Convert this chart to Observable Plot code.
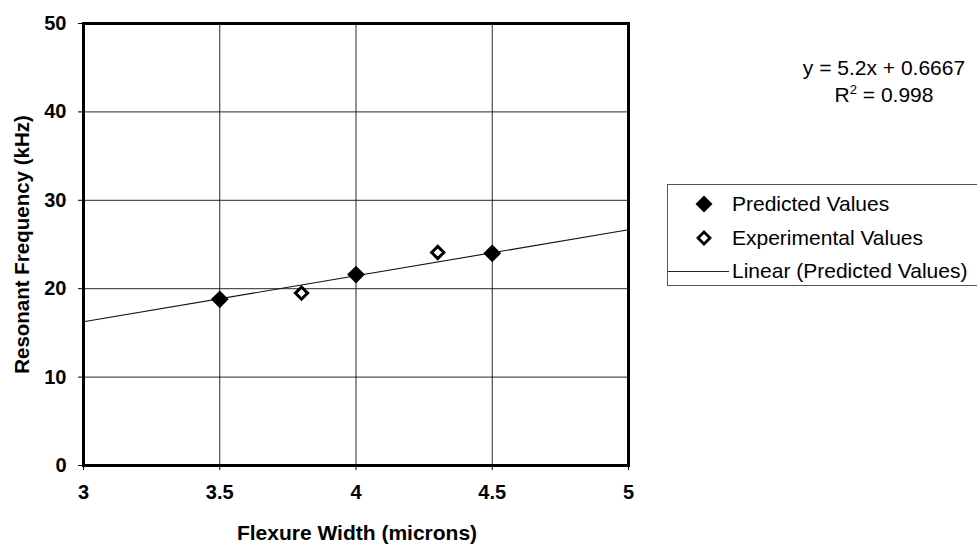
<!DOCTYPE html>
<html>
<head>
<meta charset="utf-8">
<script src="https://cdn.jsdelivr.net/npm/d3@7"></script>
<script src="https://cdn.jsdelivr.net/npm/@observablehq/plot@0.6"></script>
<style>
  html, body { margin: 0; padding: 0; background: #fff; }
  #wrap { position: relative; width: 977px; height: 546px; overflow: hidden; font-family: "Liberation Sans", Arial, sans-serif; color: #000; }
  #wrap svg { display: block; }
  .eq { position: absolute; left: 784px; width: 200px; text-align: center; font-size: 21px; line-height: 24px; }
  #legend { position: absolute; left: 667px; top: 184px; width: 330px; height: 102px; border: 1px solid #555; box-sizing: border-box; }
  .item { position: absolute; left: 0; width: 330px; height: 24px; font-size: 21px; line-height: 24px; }
  .item span { position: absolute; left: 64px; white-space: nowrap; }
  .mk { position: absolute; }
</style>
</head>
<body>
<div id="wrap"></div>
<script>
// Data
const predictedX = [3.5, 4.0, 4.5];
const predictedY = [18.8, 21.6, 24.0];
const experimentalX = [3.8, 4.3];
const experimentalY = [19.5, 24.1];
const slope = 5.2;
const intercept = 0.6667;
const trendX = [3, 5];
const xTicks = [3, 3.5, 4, 4.5, 5];
const yTicks = [0, 10, 20, 30, 40, 50];
const xLabel = "Flexure Width (microns)";
const yLabel = "Resonant Frequency (kHz)";
const legendLabels = ["Predicted Values", "Experimental Values", "Linear (Predicted Values)"];
const equationText = "y = 5.2x + 0.6667";
const r2Text = "0.998";

const predicted = predictedX.map((x, i) => ({x, y: predictedY[i]}));
const experimental = experimentalX.map((x, i) => ({x, y: experimentalY[i]}));
const trend = trendX.map(x => ({x, y: slope * x + intercept}));

const font = "Liberation Sans, Arial, sans-serif";

const chart = Plot.plot({
  width: 977,
  height: 546,
  marginLeft: 83,
  marginTop: 23,
  marginRight: 349,
  marginBottom: 81,
  style: { fontFamily: font, fontSize: "20px", fontWeight: "bold", background: "white", color: "black", overflow: "visible" },
  x: { domain: [3, 5], ticks: xTicks },
  y: { domain: [0, 50], ticks: yTicks },
  marks: [
    Plot.gridX(xTicks, { stroke: "#111", strokeOpacity: 1, strokeWidth: 0.9 }),
    Plot.gridY(yTicks, { stroke: "#111", strokeOpacity: 1, strokeWidth: 0.9 }),
    Plot.axisX({ ticks: xTicks, tickSize: 5, tickPadding: 14, fontSize: 20, fontWeight: "bold", label: null, tickFormat: d => String(d) }),
    Plot.axisY({ ticks: yTicks, tickSize: 5, tickPadding: 12, fontSize: 20, fontWeight: "bold", label: null }),
    Plot.text([xLabel], { frameAnchor: "bottom", lineAnchor: "middle", textAnchor: "middle", dy: 68, dx: 1, fontSize: 21, fontWeight: "bold", text: d => d }),
    Plot.text([yLabel], { frameAnchor: "left", lineAnchor: "middle", textAnchor: "middle", dx: -61, rotate: -90, fontSize: 20.5, fontWeight: "bold", text: d => d }),
    Plot.line(trend, { x: "x", y: "y", stroke: "#111", strokeWidth: 1.1 }),
    Plot.dot(predicted, { x: "x", y: "y", symbol: "diamond2", r: 8, fill: "black", stroke: "none" }),
    Plot.dot(experimental, { x: "x", y: "y", symbol: "diamond2", r: 5.5, fill: "white", stroke: "black", strokeWidth: 3 }),
    Plot.frame({ stroke: "black", strokeWidth: 3 })
  ]
});

const wrap = document.getElementById("wrap");
wrap.appendChild(chart);

// Equation annotation
const eq1 = document.createElement("div");
eq1.className = "eq"; eq1.style.top = "56px"; eq1.textContent = equationText;
const eq2 = document.createElement("div");
eq2.className = "eq"; eq2.style.top = "83px";
eq2.innerHTML = "R<sup style='font-size:13px;line-height:0'>2</sup> = " + r2Text;
wrap.appendChild(eq1); wrap.appendChild(eq2);

// Legend
const legend = document.createElement("div");
legend.id = "legend";
const tops = [7, 41, 74];
const markers = [
  "<svg class='mk' style='left:24px;top:0px' width='24' height='24'><path d='M12,3.5L20.5,12L12,20.5L3.5,12Z' fill='black'/></svg>",
  "<svg class='mk' style='left:24px;top:0px' width='24' height='24'><path d='M12,6L18,12L12,18L6,12Z' fill='white' stroke='black' stroke-width='2.8'/></svg>",
  "<svg class='mk' style='left:0px;top:0px' width='62' height='24'><line x1='0' y1='12.5' x2='61' y2='12.5' stroke='#222' stroke-width='1'/></svg>"
];
legendLabels.forEach((lab, i) => {
  const it = document.createElement("div");
  it.className = "item";
  it.style.top = tops[i] + "px";
  it.innerHTML = markers[i] + "<span>" + lab + "</span>";
  legend.appendChild(it);
});
wrap.appendChild(legend);
</script>
</body>
</html>
